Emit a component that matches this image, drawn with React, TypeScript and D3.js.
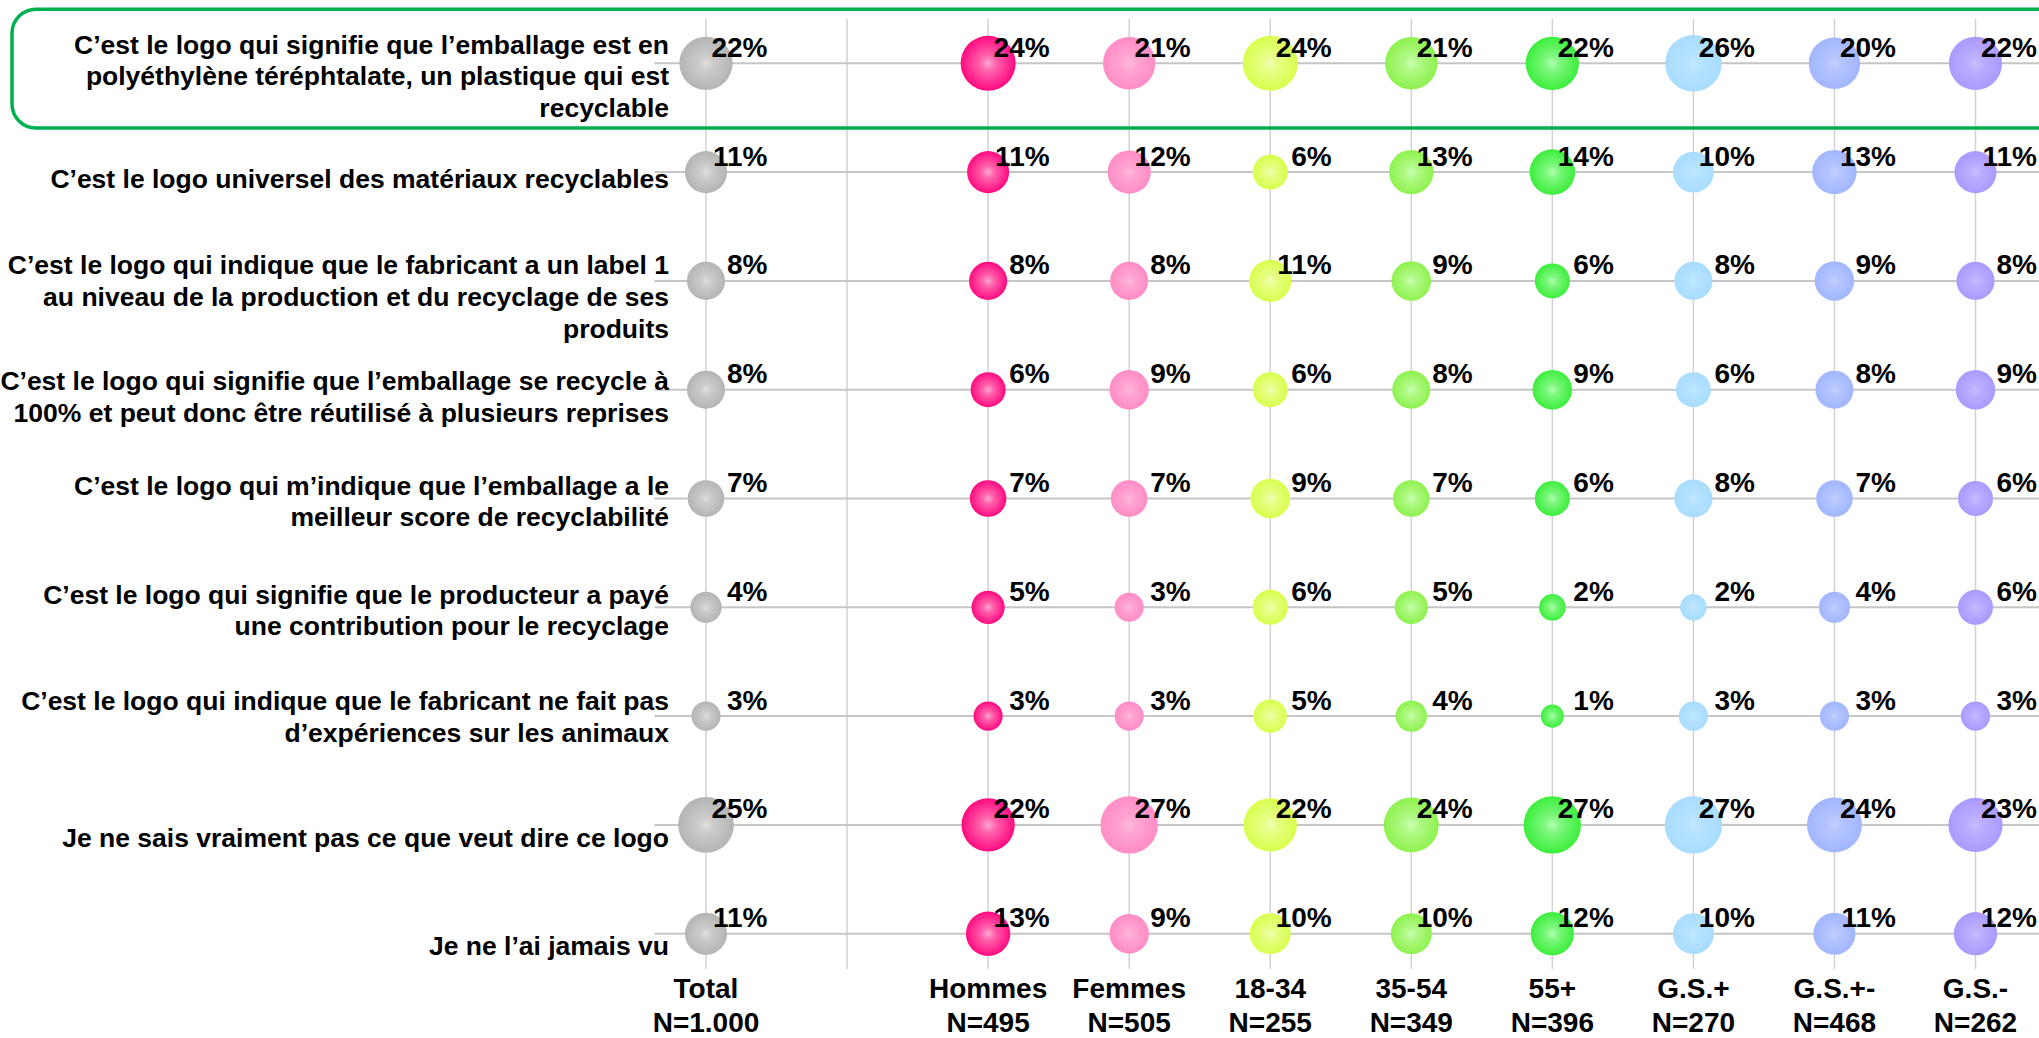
import React from 'react';
import * as d3 from 'd3';

// Statements (row labels), one entry per line
const statements = [
  ['C’est le logo qui signifie que l’emballage est en', 'polyéthylène téréphtalate, un plastique qui est', 'recyclable'],
  ['C’est le logo universel des matériaux recyclables'],
  ['C’est le logo qui indique que le fabricant a un label 1', 'au niveau de la production et du recyclage de ses', 'produits'],
  ['C’est le logo qui signifie que l’emballage se recycle à', '100% et peut donc être réutilisé à plusieurs reprises'],
  ['C’est le logo qui m’indique que l’emballage a le', 'meilleur score de recyclabilité'],
  ['C’est le logo qui signifie que le producteur a payé', 'une contribution pour le recyclage'],
  ['C’est le logo qui indique que le fabricant ne fait pas', 'd’expériences sur les animaux'],
  ['Je ne sais vraiment pas ce que veut dire ce logo'],
  ['Je ne l’ai jamais vu'],
];

// Column groups ('' is the empty slot separating Total from the sub-groups)
const groups = ['Total', '', 'Hommes', 'Femmes', '18-34', '35-54', '55+', 'G.S.+', 'G.S.+-', 'G.S.-'];
const bases = ['N=1.000', '', 'N=495', 'N=505', 'N=255', 'N=349', 'N=396', 'N=270', 'N=468', 'N=262'];

// Percentages per group, in statement order
const total = [22, 11, 8, 8, 7, 4, 3, 25, 11];
const hommes = [24, 11, 8, 6, 7, 5, 3, 22, 13];
const femmes = [21, 12, 8, 9, 7, 3, 3, 27, 9];
const age1834 = [24, 6, 11, 6, 9, 6, 5, 22, 10];
const age3554 = [21, 13, 9, 8, 7, 5, 4, 24, 10];
const age55 = [22, 14, 6, 9, 6, 2, 1, 27, 12];
const gsPlus = [26, 10, 8, 6, 8, 2, 3, 27, 10];
const gsMid = [20, 13, 9, 8, 7, 4, 3, 24, 11];
const gsMinus = [22, 11, 8, 9, 6, 6, 3, 23, 12];

const series = [
  { group: 'Total', values: total, base: '#b4b4b4', light: '#dedede' },
  { group: 'Hommes', values: hommes, base: '#ff0a80', light: '#ffaad2' },
  { group: 'Femmes', values: femmes, base: '#ff8cc6', light: '#ffbadc' },
  { group: '18-34', values: age1834, base: '#d8ff4c', light: '#f2ffb4' },
  { group: '35-54', values: age3554, base: '#8ef24e', light: '#ccffb4' },
  { group: '55+', values: age55, base: '#3cee3c', light: '#b2ffb2' },
  { group: 'G.S.+', values: gsPlus, base: '#a8dcff', light: '#c2e8ff' },
  { group: 'G.S.+-', values: gsMid, base: '#a2b6ff', light: '#c2d0ff' },
  { group: 'G.S.-', values: gsMinus, base: '#aa9aff', light: '#c8bcff' },
];

// small vertical nudges of the row labels relative to their gridline
const labelNudge = [22, 16, 25, 16, 12, 12, 10, 22, 21];

const W = 2039;
const H = 1038;
const FONT = '"Liberation Sans", Arial, sans-serif';

export default function App() {
  const x = d3.scalePoint<string>().domain(groups).range([706, 1975.5]);
  const y = d3.scalePoint<number>().domain(d3.range(statements.length)).range([63.3, 933.7]);
  const r = d3.scaleSqrt().domain([0, 27]).range([7.5, 28.7]);

  const plotTop = 19;
  const plotBottom = 969;
  const plotLeft = 654.5;

  return (
    <svg
      width={W}
      height={H}
      style={{ position: 'absolute', left: 0, top: 0, background: '#fff' }}
      fontFamily={FONT}
      fontWeight="bold"
    >
      <defs>
        {series.map((s, i) => (
          <radialGradient key={i} id={`bub${i}`} cx="50%" cy="50%" r="50%">
            <stop offset="0%" stopColor={s.light} />
            <stop offset="30%" stopColor={d3.interpolateRgb(s.light, s.base)(0.45)} />
            <stop offset="100%" stopColor={s.base} />
          </radialGradient>
        ))}
      </defs>
      <rect width={W} height={H} fill="#fff" />

      {/* vertical gridlines */}
      {groups.map((g, i) => (
        <line key={i} x1={x(g)} x2={x(g)} y1={plotTop} y2={plotBottom} stroke="#d2d2d2" strokeWidth={1.5} />
      ))}
      {/* horizontal gridlines */}
      {statements.map((_, i) => (
        <line key={i} x1={plotLeft} x2={W + 10} y1={y(i)} y2={y(i)} stroke="#c6c6c6" strokeWidth={2} />
      ))}

      {/* highlight box around the first statement */}
      <rect x={12} y={9.2} width={W + 40} height={118.8} rx={24} ry={24} fill="none" stroke="#00b050" strokeWidth={3.5} />

      {/* statement labels */}
      {statements.map((lines, i) => {
        const mid = (y(i) as number) + labelNudge[i];
        const start = mid - ((lines.length - 1) * 31.6) / 2;
        return (
          <text key={i} x={669} fontSize={26.5} textAnchor="end" fill="#000">
            {lines.map((l, j) => (
              <tspan key={j} x={669} y={start + j * 31.6}>{l}</tspan>
            ))}
          </text>
        );
      })}

      {/* bubbles */}
      {series.map((s, si) =>
        s.values.map((v, i) => (
          <circle key={`${si}-${i}`} cx={x(s.group)} cy={y(i)} r={r(v)} fill={`url(#bub${si})`} />
        ))
      )}

      {/* value labels */}
      {series.map((s, si) =>
        s.values.map((v, i) => (
          <text
            key={`${si}-${i}`}
            x={(x(s.group) as number) + 61.5}
            y={(y(i) as number) - 6.6}
            fontSize={28}
            textAnchor="end"
            fill="#000"
          >
            {`${v}%`}
          </text>
        ))
      )}

      {/* column labels */}
      {groups.map((g, i) =>
        g ? (
          <text key={i} x={x(g)} fontSize={28} textAnchor="middle" fill="#000">
            <tspan x={x(g)} y={998}>{g}</tspan>
            <tspan x={x(g)} y={1032}>{bases[i]}</tspan>
          </text>
        ) : null
      )}
    </svg>
  );
}
